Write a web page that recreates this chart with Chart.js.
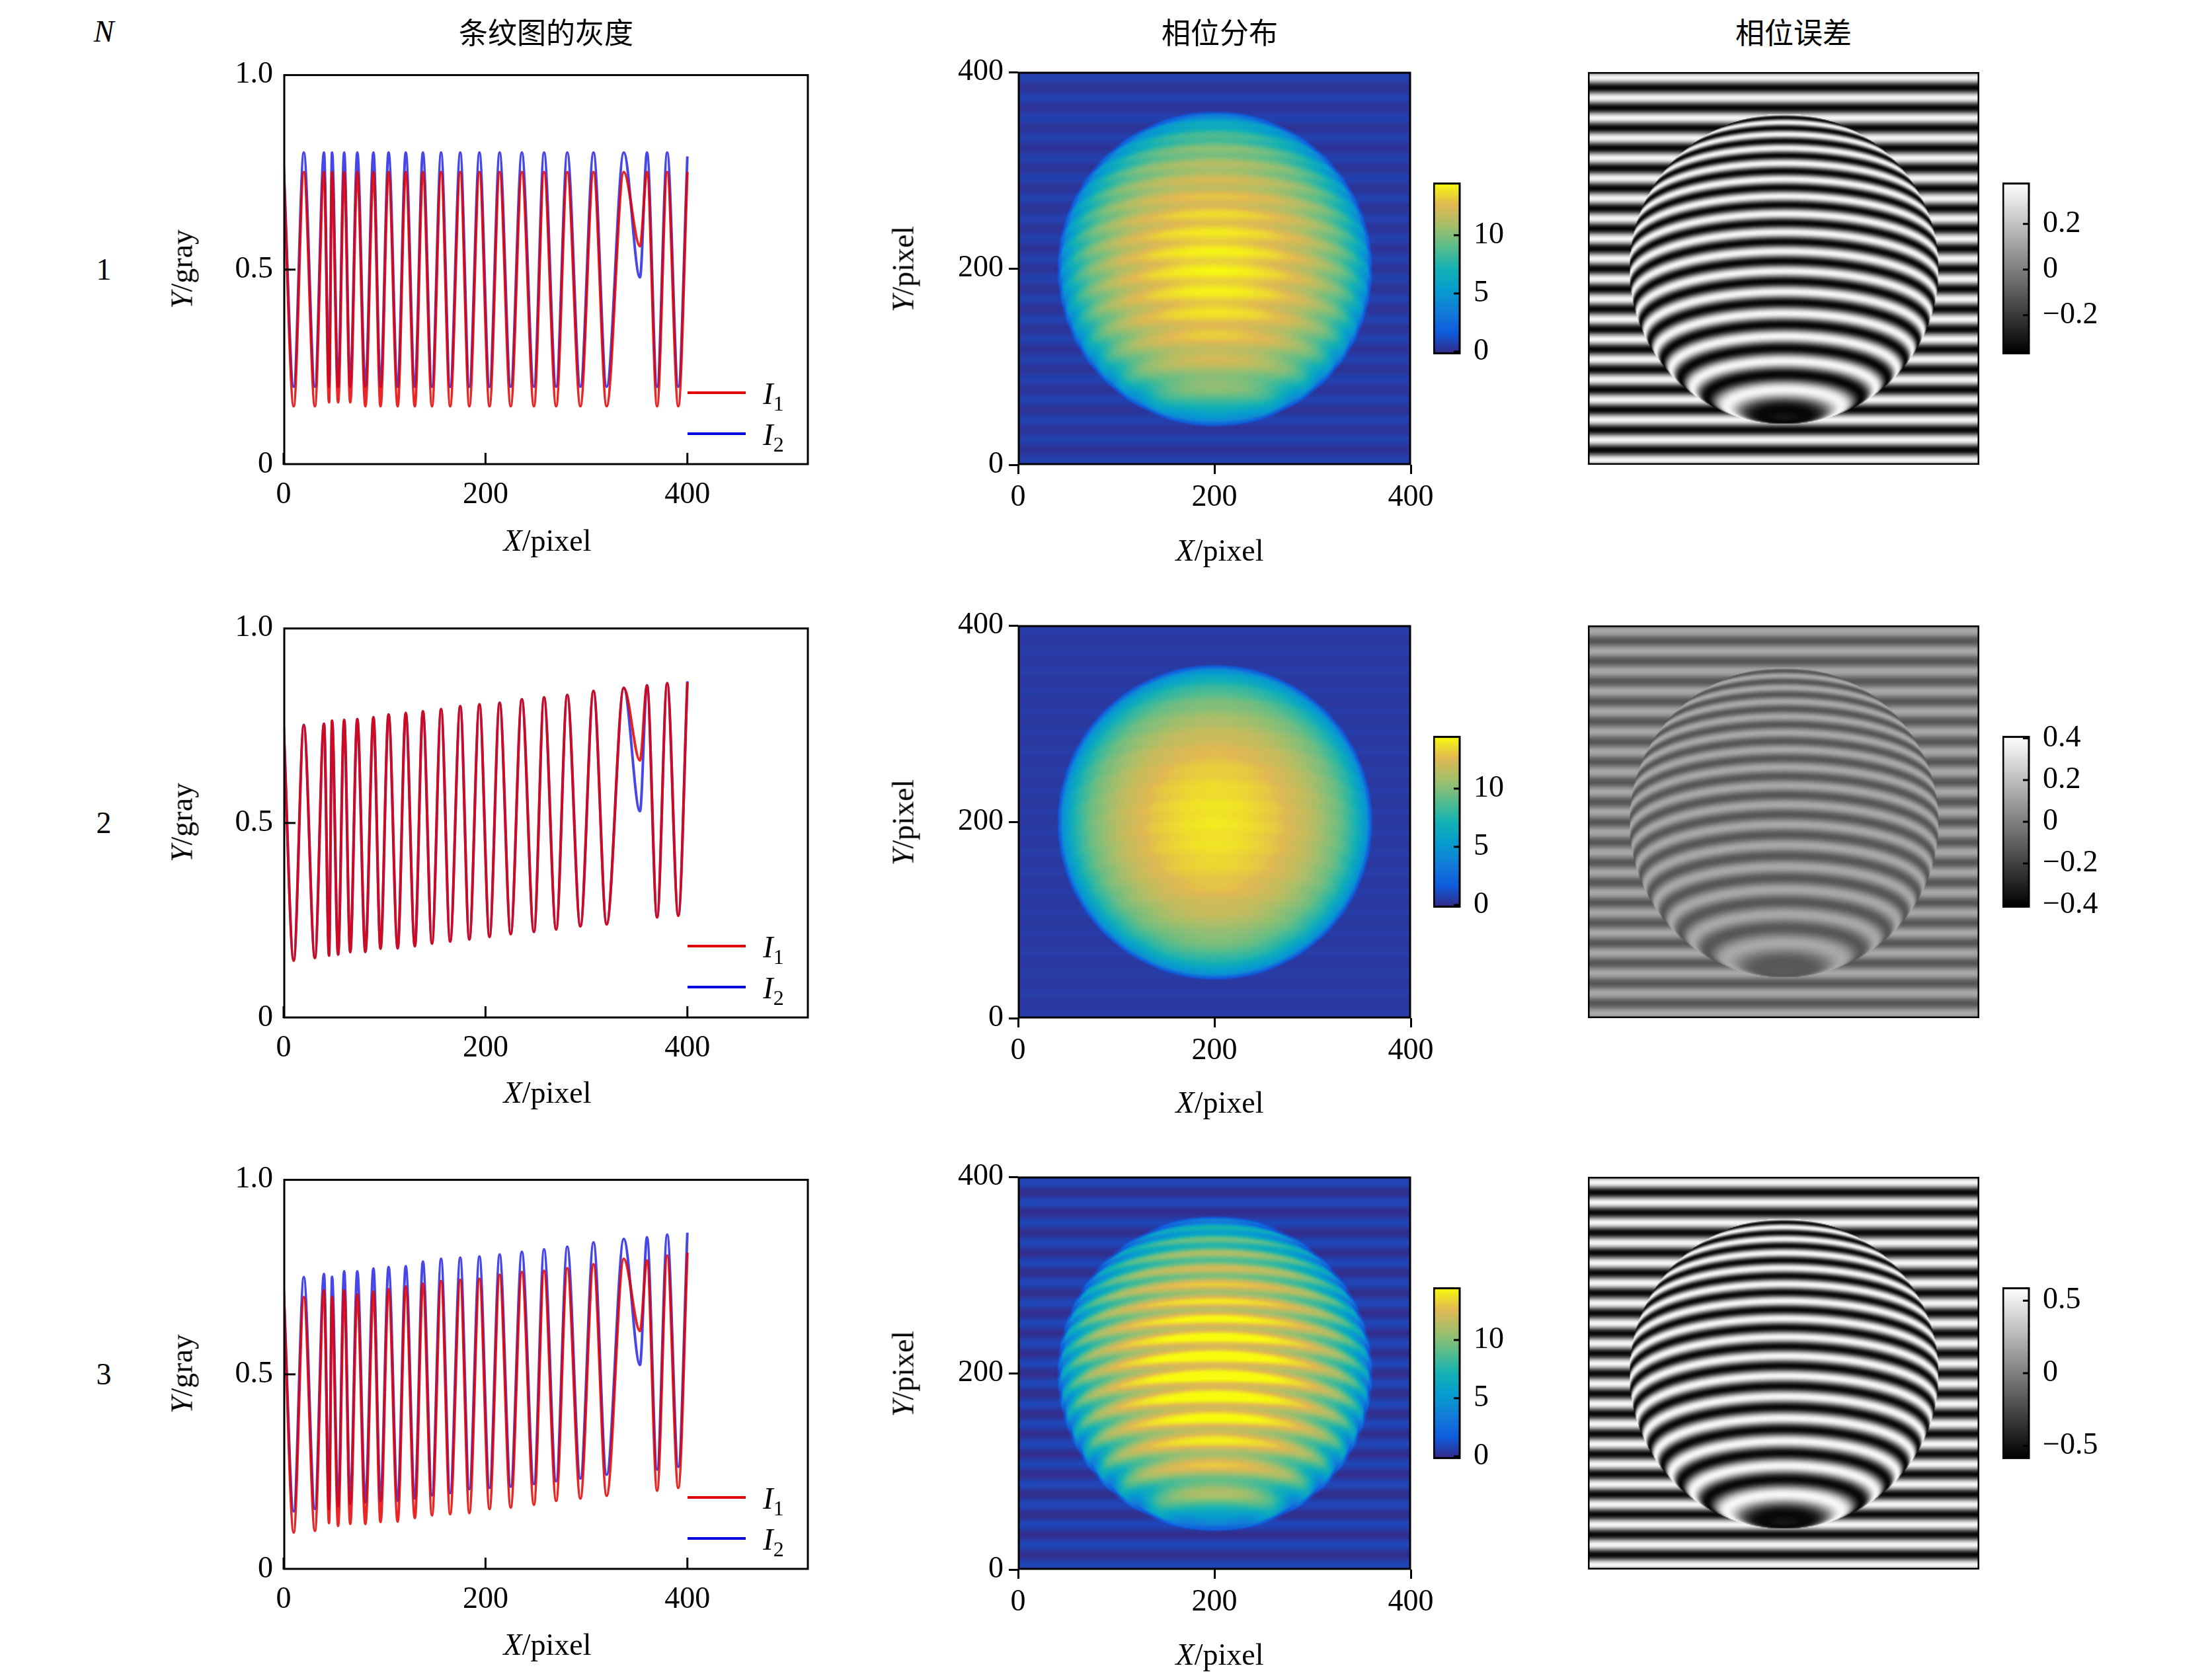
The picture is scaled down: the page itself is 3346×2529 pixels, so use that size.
<!DOCTYPE html>
<html><head><meta charset="utf-8">
<script src="https://cdn.jsdelivr.net/npm/chart.js@4/dist/chart.umd.min.js"></script>
<style>
body{margin:0;width:3346px;height:2529px;background:#fff;position:relative;overflow:hidden;font-family:"Liberation Serif",serif;}
.c{position:absolute;}
.t{position:absolute;transform:translate(-50%,-50%);white-space:nowrap;font-size:46px;color:#000;}
.cjk{font-family:"Noto Sans CJK SC";font-size:44px;}
.rot{transform:translate(-50%,-50%) rotate(-90deg);}
.lg{position:absolute;height:4px;width:88px;}
sub{font-size:32px;vertical-align:-10px;}
</style></head><body>
<script>
// ---------- data ----------
const xExt = [0,10,20,31,40,45,48,54,60,66,73,81,89,96,104,113,121,130,138,147,156,165,175,184,194,204,214,225,236,248,258,270,281,294,307,320,337,353,360,370,380,391,400];
// row 1
const r1BlueStart = 0.77;
const r1BluePeaks = [0.80,0.80,0.80,0.80,0.80,0.80,0.80,0.80,0.80,0.80,0.80,0.80,0.80,0.80,0.80,0.80,0.80,0.80,0.80,0.80,0.79];
const r1BlueTroughs = [0.20,0.20,0.20,0.20,0.20,0.20,0.20,0.20,0.20,0.20,0.20,0.20,0.20,0.20,0.20,0.20,0.20,0.20,0.48,0.20,0.20];
const r1RedStart = 0.76;
const r1RedPeaks = [0.75,0.75,0.75,0.75,0.75,0.75,0.75,0.75,0.75,0.75,0.75,0.75,0.75,0.75,0.75,0.75,0.75,0.75,0.75,0.75,0.75];
const r1RedTroughs = [0.15,0.15,0.16,0.16,0.16,0.15,0.15,0.15,0.15,0.15,0.15,0.15,0.15,0.15,0.15,0.15,0.15,0.15,0.56,0.15,0.15];
// row 2
const r2BlueStart = 0.75;
const r2BluePeaks = [0.751,0.754,0.761,0.764,0.766,0.77,0.778,0.781,0.786,0.791,0.799,0.803,0.808,0.817,0.821,0.828,0.838,0.846,0.853,0.858,0.863];
const r2BlueTroughs = [0.149,0.155,0.161,0.163,0.17,0.17,0.179,0.179,0.185,0.192,0.197,0.202,0.209,0.216,0.221,0.228,0.236,0.242,0.53,0.259,0.264];
const r2RedStart = 0.75;
const r2RedPeaks = [0.75,0.754,0.762,0.764,0.766,0.771,0.778,0.782,0.786,0.792,0.799,0.804,0.808,0.817,0.822,0.828,0.838,0.846,0.852,0.858,0.86];
const r2RedTroughs = [0.147,0.154,0.16,0.163,0.169,0.17,0.178,0.179,0.184,0.191,0.196,0.202,0.208,0.215,0.221,0.227,0.235,0.24,0.66,0.258,0.262];
// row 3
const r3BlueStart = 0.72;
const r3BluePeaks = [0.749,0.757,0.75,0.764,0.764,0.771,0.775,0.777,0.789,0.796,0.799,0.802,0.807,0.814,0.82,0.827,0.838,0.847,0.851,0.858,0.863];
const r3BlueTroughs = [0.149,0.155,0.155,0.162,0.169,0.172,0.176,0.176,0.182,0.19,0.196,0.206,0.209,0.212,0.219,0.226,0.233,0.243,0.524,0.256,0.263];
const r3RedStart = 0.72;
const r3RedPeaks = [0.698,0.715,0.698,0.715,0.705,0.712,0.718,0.725,0.732,0.739,0.742,0.745,0.755,0.762,0.765,0.772,0.782,0.796,0.792,0.804,0.812];
const r3RedTroughs = [0.095,0.099,0.119,0.112,0.117,0.117,0.122,0.123,0.132,0.139,0.142,0.145,0.155,0.159,0.166,0.176,0.182,0.189,0.611,0.202,0.209];

const lineXTicks = [0,200,400];
const lineYTicks = [0,0.5,1.0];
const mapTicks = [0,200,400];
const phaseBarTicks = [0,5,10];
const errBarTicks = [[-0.2,0,0.2],[-0.4,-0.2,0,0.2,0.4],[-0.5,0,0.5]];
const errBarRange = [[-0.37,0.38],[-0.41,0.41],[-0.59,0.59]];
const phaseBarRange = [-0.2,14.5];
// phase radial profile (value at r/R = 0,0.2,0.4,0.6,0.8,0.9,1.0)
const phaseProfileR = [0,0.2,0.4,0.6,0.8,0.9,1.0];
const phaseProfileV = [14.0,13.7,13.0,11.7,9.5,7.5,4.0];
const phaseBackground = 0.4;
const phaseRipple = [0.5,0.1,1.4];   // banding amplitude inside sphere per row
const phaseBgRipple = [0.25,0.1,0.45];
const errAmp = [0.35,0.13,0.55];
const errMean = [0,0,0];

// ---------- layout ----------
const rowTop = [109,946,1780];
const BOX = 594;
const parula = [[53,42,135],[15,92,221],[18,125,216],[7,156,207],[21,177,180],[89,189,140],[165,190,107],[225,185,82],[249,251,14]];
const FONT = {family:'"Liberation Serif", serif', size:46};

function interleave(start,peaks,troughs){
  return xExt.map((x,i)=>({x, y: i===0?start:(i%2===1?troughs[(i-1)/2]:peaks[i/2-1])}));
}
function fixedTicks(vals){ return s=>{ s.ticks = vals.map(v=>({value:v})); }; }
function fmt(v){ if(Number.isInteger(v)) return (v<0?'\u2212':'')+Math.abs(v); return (v<0?'\u2212':'')+Math.abs(v).toFixed(1); }
function fmtLine(v){ return v===0?'0':v.toFixed(1); }
function mk(tag,cls,style,html){const e=document.createElement(tag);e.className=cls;Object.assign(e.style,style);if(html!==undefined)e.innerHTML=html;document.body.appendChild(e);return e;}

const boxPlugin = {id:'box', afterDraw(c,a,o){ if(!o||!o.on) return; const ca=c.chartArea, x=c.ctx; x.save(); x.strokeStyle='#000'; x.lineWidth=o.lw||3; x.strokeRect(ca.left+1,ca.top+1,ca.right-ca.left-2,ca.bottom-ca.top-2);
  x.lineWidth=3;
  if(o.inX){ const s=c.scales.x; o.inX.forEach(v=>{const px=s.getPixelForValue(v); x.beginPath(); x.moveTo(px,ca.bottom); x.lineTo(px,ca.bottom-18); x.stroke();}); }
  if(o.inY){ const s=c.scales.y; o.inY.forEach(v=>{const py=s.getPixelForValue(v); x.beginPath(); x.moveTo(ca.left,py); x.lineTo(ca.left+18,py); x.stroke();}); }
  if(o.inYR){ const s=c.scales.y; o.inYR.forEach(v=>{const py=s.getPixelForValue(v); x.beginPath(); x.moveTo(ca.right,py); x.lineTo(ca.right-10,py); x.stroke();}); }
  x.restore(); }};
const imgPlugin = {id:'img', beforeDatasetsDraw(c,a,o){ if(!o||!o.make) return; if(!c._img) c._img=o.make(); const ca=c.chartArea; c.ctx.imageSmoothingEnabled=true; c.ctx.drawImage(c._img,ca.left,ca.top,ca.right-ca.left,ca.bottom-ca.top);}};
Chart.register(boxPlugin,imgPlugin);

function container(l,t,w,h){ const d=mk('div','c',{left:l+'px',top:t+'px',width:w+'px',height:h+'px'}); const cv=document.createElement('canvas'); d.appendChild(cv); return cv; }

function lineChart(row, red, blue){
  const padL=200,padT=40,padR=10,padB=130, L=429, W=794;
  const cv=container(L-padL,rowTop[row]-padT,W+padL+padR,BOX+padT+padB);
  new Chart(cv,{type:'scatter',data:{datasets:[
    {data:red,showLine:true,borderColor:'rgba(228,0,0,0.85)',borderWidth:4,pointRadius:0,cubicInterpolationMode:'monotone'},
    {data:blue,showLine:true,borderColor:'rgba(0,0,225,0.72)',borderWidth:4,pointRadius:0,cubicInterpolationMode:'monotone'}]},
   options:{animation:false,responsive:true,maintainAspectRatio:false,devicePixelRatio:1,layout:{padding:{top:padT,right:padR,left:0,bottom:0}},
    plugins:{legend:{display:false},tooltip:{enabled:false},box:{on:true,inX:lineXTicks,inY:[0.5]}},
    scales:{x:{type:'linear',min:0,max:520,afterBuildTicks:fixedTicks(lineXTicks),afterFit:s=>{s.height=padB;},grid:{display:false,drawTicks:false},border:{display:false},ticks:{font:FONT,color:'#000',padding:18,callback:v=>String(v),maxRotation:0}},
            y:{type:'linear',min:0,max:1,afterBuildTicks:fixedTicks(lineYTicks),afterFit:s=>{s.width=padL;},grid:{display:false,drawTicks:false},border:{display:false},ticks:{font:FONT,color:'#000',padding:16,callback:v=>fmtLine(v)}}}}});
}
function lerpProfile(rr){ if(rr>=1) return phaseProfileV[phaseProfileV.length-1]; for(let i=1;i<phaseProfileR.length;i++){ if(rr<=phaseProfileR[i]){ const f=(rr-phaseProfileR[i-1])/(phaseProfileR[i]-phaseProfileR[i-1]); return phaseProfileV[i-1]+f*(phaseProfileV[i]-phaseProfileV[i-1]); } } return phaseProfileV[phaseProfileV.length-1]; }
function parulaCol(t){ t=Math.max(0,Math.min(1,t)); const p=t*(parula.length-1); const i=Math.min(parula.length-2,Math.floor(p)); const f=p-i; return parula[i].map((v,k)=>v+f*(parula[i+1][k]-v)); }
const R=158, CX=200, CY=200, P=20.5, K=0.31;
function fringePhase(i,j){ const dx=i-CX, dy=j-CY; const r2=dx*dx+dy*dy; const h=r2<R*R?Math.sqrt(R*R-r2):0; return {inside:r2<R*R, r:Math.sqrt(r2), ph:2*Math.PI*(j+K*h)/P}; }
function makePhase(row){ return ()=>{ const c=document.createElement('canvas'); c.width=400;c.height=400; const x=c.getContext('2d'); const im=x.createImageData(400,400);
  for(let j=0;j<400;j++)for(let i=0;i<400;i++){ const f=fringePhase(i,j); let v;
    const rr=f.r/R; const edge=Math.max(0,Math.min(1,(f.r-(R-3))/6));
    const vin=lerpProfile(Math.min(rr,1))+phaseRipple[row]*Math.sin(f.ph);
    const vout=phaseBackground+phaseBgRipple[row]*Math.sin(f.ph);
    v=vin*(1-edge)+vout*edge;
    const col=parulaCol((v-phaseBarRange[0])/(phaseBarRange[1]-phaseBarRange[0])); const k=(j*400+i)*4; im.data[k]=col[0];im.data[k+1]=col[1];im.data[k+2]=col[2];im.data[k+3]=255; }
  x.putImageData(im,0,0); return c; }; }
function makeErr(row){ return ()=>{ const c=document.createElement('canvas'); c.width=400;c.height=400; const x=c.getContext('2d'); const im=x.createImageData(400,400); const [lo,hi]=errBarRange[row];
  for(let j=0;j<400;j++)for(let i=0;i<400;i++){ const f=fringePhase(i,j); const ph=f.inside?f.ph:2*Math.PI*j/P; const e=errMean[row]+errAmp[row]*Math.sin(ph);
    const g=255*Math.max(0,Math.min(1,(e-lo)/(hi-lo))); const k=(j*400+i)*4; im.data[k]=g;im.data[k+1]=g;im.data[k+2]=g;im.data[k+3]=255; }
  x.putImageData(im,0,0); return c; }; }
function gradMaker(kind){ return ()=>{ const c=document.createElement('canvas'); c.width=1;c.height=256; const x=c.getContext('2d'); const im=x.createImageData(1,256);
  for(let j=0;j<256;j++){ const t=1-j/255; const col=kind==='p'?parulaCol(t):[255*t,255*t,255*t]; im.data[j*4]=col[0];im.data[j*4+1]=col[1];im.data[j*4+2]=col[2];im.data[j*4+3]=255; }
  x.putImageData(im,0,0); return c; }; }

function mapChart(row,L,make,withAxes,W){
  const padL=withAxes?200:0,padT=withAxes?40:0,padR=withAxes?70:0,padB=withAxes?140:0, shift=withAxes?9:13;
  const cv=container(L-padL-shift,rowTop[row]-padT,W+padL+padR,BOX+padT+padB);
  const ax=(axis)=>({type:'linear',min:0,max:400,display:withAxes,afterBuildTicks:fixedTicks(mapTicks),afterFit:s=>{ if(axis==='x') s.height=padB; else s.width=padL; },
     grid:{drawOnChartArea:false,drawTicks:true,tickLength:14,color:'#000',lineWidth:3},border:{display:false},ticks:{font:FONT,color:'#000',padding:8,callback:v=>String(v),maxRotation:0}});
  new Chart(cv,{type:'scatter',data:{datasets:[]},options:{animation:false,responsive:true,maintainAspectRatio:false,devicePixelRatio:1,layout:{padding:{top:padT,right:padR,left:0,bottom:0}},
    plugins:{legend:{display:false},tooltip:{enabled:false},box:{on:true},img:{make}},scales:{x:ax('x'),y:ax('y')}}});
}
function barChart(row,L,range,ticks,kind){
  const W=41,H=294,T=rowTop[row]+150,padR=200,padT=30,padB=30;
  const cv=container(L,T-padT,W+padR,H+padT+padB);
  new Chart(cv,{type:'scatter',data:{datasets:[]},options:{animation:false,responsive:true,maintainAspectRatio:false,devicePixelRatio:1,layout:{padding:{top:padT,bottom:padB,left:0,right:0}},
    plugins:{legend:{display:false},tooltip:{enabled:false},box:{on:true,inYR:ticks},img:{make:gradMaker(kind)}},
    scales:{x:{display:false,min:0,max:1},y:{position:'right',type:'linear',min:range[0],max:range[1],afterBuildTicks:fixedTicks(ticks),afterFit:s=>{s.width=padR;},grid:{display:false,drawTicks:false},border:{display:false},ticks:{font:FONT,color:'#000',padding:20,callback:v=>fmt(v)}}}}});
}

const rows=[[r1RedStart,r1RedPeaks,r1RedTroughs,r1BlueStart,r1BluePeaks,r1BlueTroughs],[r2RedStart,r2RedPeaks,r2RedTroughs,r2BlueStart,r2BluePeaks,r2BlueTroughs],[r3RedStart,r3RedPeaks,r3RedTroughs,r3BlueStart,r3BluePeaks,r3BlueTroughs]];
rows.forEach((d,row)=>{
  lineChart(row, interleave(d[0],d[1],d[2]), interleave(d[3],d[4],d[5]));
  mapChart(row,1549,makePhase(row),true,594);
  mapChart(row,2415,makeErr(row),false,592);
  barChart(row,2168,phaseBarRange,phaseBarTicks,'p');
  barChart(row,3029,errBarRange[row],errBarTicks[row],'g');
  const T=rowTop[row], dy=row*835;
  mk('div','t',{left:'157px',top:(T+298)+'px'},String(row+1));
  mk('div','t rot',{left:'275px',top:(T+298)+'px'},'<i>Y</i>/gray');
  mk('div','t',{left:'828px',top:(817+dy)+'px'},'<i>X</i>/pixel');
  mk('div','t rot',{left:'1366px',top:(T+298)+'px'},'<i>Y</i>/pixel');
  mk('div','t',{left:'1845px',top:(832+dy)+'px'},'<i>X</i>/pixel');
  mk('div','lg',{left:'1040px',top:(T+483)+'px',background:'#e00000'});
  mk('div','lg',{left:'1040px',top:(T+545)+'px',background:'#0000e0'});
  mk('div','t',{left:'1170px',top:(T+490)+'px'},'<i>I</i><sub>1</sub>');
  mk('div','t',{left:'1170px',top:(T+552)+'px'},'<i>I</i><sub>2</sub>');
});
mk('div','t',{left:'157px',top:'47px'},'<i>N</i>');
mk('div','t cjk',{left:'826px',top:'47px'},'条纹图的灰度');
mk('div','t cjk',{left:'1845px',top:'47px'},'相位分布');
mk('div','t cjk',{left:'2713px',top:'47px'},'相位误差');
</script>
</body></html>
